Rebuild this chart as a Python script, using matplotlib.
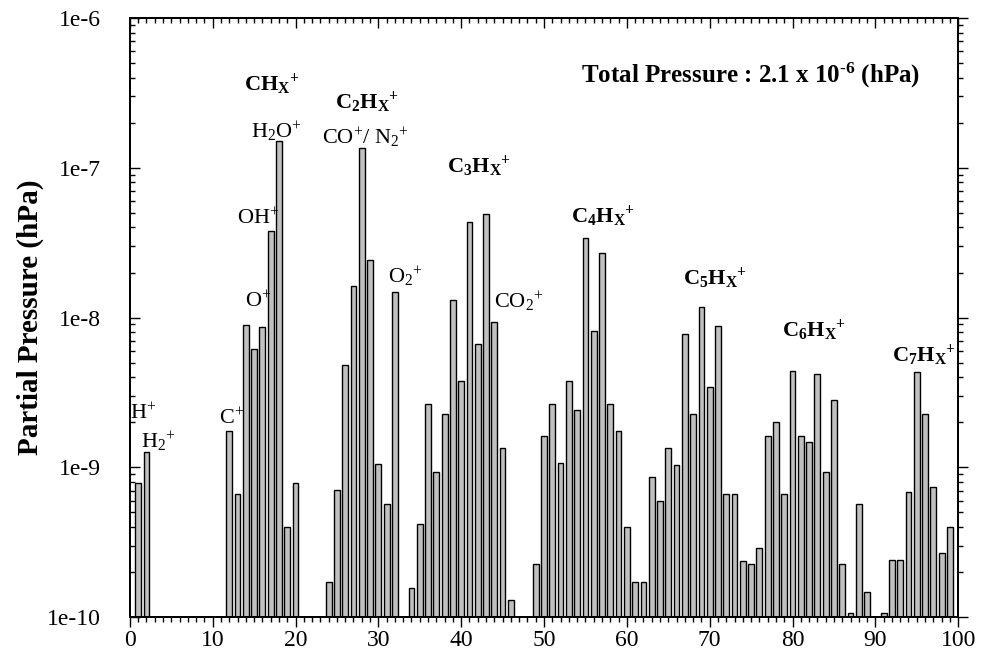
import numpy as np
import matplotlib
matplotlib.use("Agg")
import matplotlib.pyplot as plt
from matplotlib.ticker import MultipleLocator, LogLocator, FuncFormatter, NullFormatter

plt.rcParams["font.family"] = ["Liberation Serif", "DejaVu Serif"]
plt.rcParams["mathtext.fontset"] = "custom"
plt.rcParams["mathtext.rm"] = "Liberation Serif"
plt.rcParams["mathtext.bf"] = "Liberation Serif:bold"
plt.rcParams["mathtext.default"] = "regular"

# Mass numbers (amu) that show a signal, and their partial pressures (hPa)
masses = [1, 2, 12, 13, 14, 15, 16, 17, 18, 19, 20,
          24, 25, 26, 27, 28, 29, 30, 31, 32,
          34, 35, 36, 37, 38, 39, 40, 41, 42, 43, 44, 45, 46,
          49, 50, 51, 52, 53, 54, 55, 56, 57, 58, 59, 60, 61, 62,
          63, 64, 65, 66, 67, 68, 69, 70, 71, 72, 73, 74, 75, 76,
          77, 78, 79, 80, 81, 82, 83, 84, 85, 86, 87, 88, 89,
          91, 92, 93, 94, 95, 96, 97, 98, 99]
pressures = [7.9e-10, 1.26e-9, 1.74e-9, 6.65e-10, 8.9e-9, 6.2e-9, 8.7e-9, 3.8e-8, 1.5e-7, 4.0e-10, 7.9e-10,
             1.72e-10, 7.05e-10, 4.8e-9, 1.62e-8, 1.36e-7, 2.43e-8, 1.06e-9, 5.7e-10, 1.48e-8,
             1.57e-10, 4.2e-10, 2.66e-9, 9.3e-10, 2.26e-9, 1.32e-8, 3.76e-9, 4.35e-8, 6.7e-9, 4.9e-8, 9.4e-9, 1.34e-9, 1.31e-10,
             2.26e-10, 1.61e-9, 2.66e-9, 1.07e-9, 3.76e-9, 2.41e-9, 3.38e-8, 8.1e-9, 2.69e-8, 2.66e-9, 1.74e-9, 4.0e-10, 1.72e-10, 1.72e-10,
             8.65e-10, 6.0e-10, 1.34e-9, 1.03e-9, 7.8e-9, 2.26e-9, 1.18e-8, 3.46e-9, 8.75e-9, 6.6e-10, 6.6e-10, 2.36e-10, 2.25e-10, 2.89e-10,
             1.61e-9, 2.01e-9, 6.6e-10, 4.42e-9, 1.61e-9, 1.47e-9, 4.17e-9, 9.3e-10, 2.8e-9, 2.27e-10, 1.07e-10, 5.7e-10, 1.47e-10,
             1.07e-10, 2.39e-10, 2.39e-10, 6.8e-10, 4.3e-9, 2.26e-9, 7.4e-10, 2.66e-10, 3.98e-10]

# Ion labels: (text, mass position, pressure position, bold)
ion_labels = [
    (r"H$^{+}$", 1.6, 2.29e-9, False),
    (r"H$_{2}$$^{+}$", 3.4, 1.47e-9, False),
    (r"C$^{+}$", 12.3, 2.09e-9, False),
    (r"O$^{+}$", 15.5, 1.28e-8, False),
    (r"OH$^{+}$", 15.5, 4.57e-8, False),
    (r"H$_{2}$O$^{+}$", 17.7, 1.74e-7, False),
    (r"CH$_{X}$$^{+}$", 17.1, 3.63e-7, True),
    (r"C$_{2}$H$_{X}$$^{+}$", 28.6, 2.75e-7, True),
    (r"CO$^{+}$/ N$_{2}$$^{+}$", 28.4, 1.58e-7, False),
    (r"O$_{2}$$^{+}$", 33.3, 1.88e-8, False),
    (r"C$_{3}$H$_{X}$$^{+}$", 42.2, 1.03e-7, True),
    (r"CO$_{2}$$^{+}$", 47.0, 1.28e-8, False),
    (r"C$_{4}$H$_{X}$$^{+}$", 57.1, 4.79e-8, True),
    (r"C$_{5}$H$_{X}$$^{+}$", 70.6, 1.82e-8, True),
    (r"C$_{6}$H$_{X}$$^{+}$", 82.6, 8.2e-9, True),
    (r"C$_{7}$H$_{X}$$^{+}$", 95.9, 5.58e-9, True),
]
total_label = "Total Pressure : 2.1 x 10$^{\u20106}$ (hPa)"

y_min, y_max = 1e-10, 1e-6
x_min, x_max = 0, 100

fig = plt.figure(figsize=(9.95, 6.70), dpi=100)
ax = fig.add_axes([0.1305, 0.079, 0.8325, 0.894])

heights = np.array(pressures) - y_min
ax.bar(masses, heights, bottom=y_min, width=0.7, color="#c0c0c0",
       edgecolor="black", linewidth=1.0, zorder=2)

ax.set_yscale("log")
ax.set_ylim(y_min, y_max)
ax.set_xlim(x_min, x_max)

ax.xaxis.set_major_locator(MultipleLocator(10))
ax.xaxis.set_minor_locator(MultipleLocator(1))
ax.yaxis.set_major_locator(LogLocator(base=10, numticks=10))
ax.yaxis.set_minor_locator(LogLocator(base=10, subs=np.arange(2, 10), numticks=50))
ax.yaxis.set_major_formatter(FuncFormatter(lambda v, p: "1e%d" % int(round(np.log10(v)))))
ax.yaxis.set_minor_formatter(NullFormatter())

ax.tick_params(axis="x", which="major", direction="out", length=7, width=1.0,
               labelsize=17, pad=2, top=False)
ax.tick_params(axis="x", which="minor", direction="out", length=3.5, width=1.0, top=False)
ax.tick_params(axis="y", which="major", direction="in", length=7, width=1.0,
               labelsize=17, pad=21, right=False)
ax.tick_params(axis="y", which="minor", direction="in", length=3.5, width=1.0, right=False)

# Top and right frame ticks
axr = ax.twinx()
axr.set_yscale("log")
axr.set_ylim(y_min, y_max)
axr.yaxis.set_major_locator(LogLocator(base=10, numticks=10))
axr.yaxis.set_minor_locator(LogLocator(base=10, subs=np.arange(2, 10), numticks=50))
axr.tick_params(axis="y", which="major", direction="out", length=7, width=1.0, labelright=False)
axr.tick_params(axis="y", which="minor", direction="out", length=3.5, width=1.0, labelright=False)

axt = ax.twiny()
axt.set_xlim(x_min, x_max)
axt.xaxis.set_major_locator(MultipleLocator(10))
axt.xaxis.set_minor_locator(MultipleLocator(1))
axt.tick_params(axis="x", which="major", direction="in", length=7, width=1.0, labeltop=False)
axt.tick_params(axis="x", which="minor", direction="in", length=3.5, width=1.0, labeltop=False)

for a in (ax, axr, axt):
    for s in a.spines.values():
        s.set_linewidth(1.2)

ax.set_ylabel("Partial Pressure (hPa)", fontsize=21, fontweight="bold", labelpad=2)

for text, xm, yp, bold in ion_labels:
    ax.text(xm, yp, text, ha="center", va="center", fontsize=16,
            fontweight="bold" if bold else "normal", zorder=3)

ax.text(74.9, 4.17e-7, total_label, ha="center", va="center", fontsize=18,
        fontweight="bold", zorder=3)

fig.savefig("out.png", dpi=100)
